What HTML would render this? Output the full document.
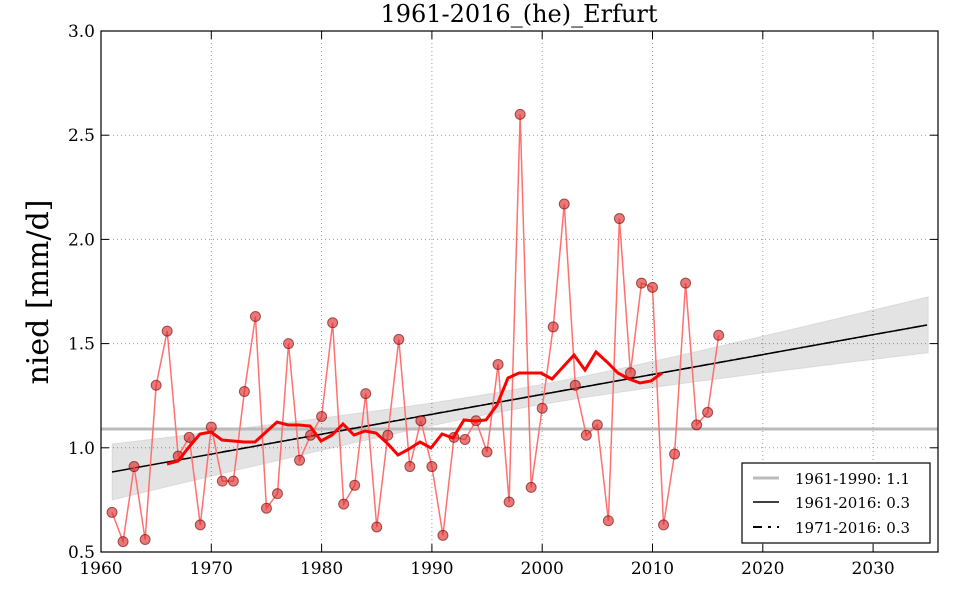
<!DOCTYPE html>
<html><head><meta charset="utf-8"><style>
html,body{margin:0;padding:0;background:#fff;width:960px;height:600px;overflow:hidden}
svg text{font-family:"DejaVu Serif","Liberation Serif",serif}
</style></head><body>
<svg id="s" width="960" height="600" xmlns="http://www.w3.org/2000/svg">
<rect width="960" height="600" fill="#fff"/>
<g id="grid" stroke="#999" stroke-width="1" stroke-dasharray="1,3"></g>
<polygon id="band" fill="#000" fill-opacity="0.11" stroke="#000" stroke-opacity="0.08"/>
<line x1="101" y1="429" x2="938" y2="429" stroke="#bbb" stroke-width="3"/>
<line x1="112" y1="472" x2="927" y2="325" stroke="#000" stroke-width="1.5"/>
<line x1="222" y1="452" x2="927" y2="325" stroke="#000" stroke-width="1.5" stroke-dasharray="8,4,2,4"/>
<polyline id="data" fill="none" stroke="#ff7070" stroke-width="1.5"/>
<g id="pts"></g>
<polyline fill="none" stroke="#f00" stroke-width="3" points="167,464 178,461 189,447 200,434 211,432 222,440 233,441 244,442 255,442 266,432 277,422 288,425 299,425 310,426 321,441 332,435 343,424 354,435 365,431 376,433 387,443 398,455 409,449 420,442 431,448 442,434 453,438 464,420 475,421 486,420 497,405 508,378 519,373 530,373 541,373 552,379 563,367 574,355 585,370 596,352 607,362 618,373 629,379 640,383 651,381 662,373"/>
<g id="ticks" stroke="#000" stroke-width="1"></g>
<rect x="101" y="31" width="837" height="521" fill="none" stroke="#000" stroke-width="1.2"/>
<g id="lab" font-size="17" fill="#000"></g>
<text x="519" y="22" font-size="24" text-anchor="middle">1961-2016_(he)_Erfurt</text>
<text transform="translate(48,292) rotate(-90)" font-size="30" text-anchor="middle">nied [mm/d]</text>
<rect x="742" y="463" width="188" height="80" fill="#fff" stroke="#000" stroke-width="1.2"/>
<line x1="753" y1="478" x2="779" y2="478" stroke="#bbb" stroke-width="3"/>
<line x1="753" y1="502" x2="779" y2="502" stroke="#000" stroke-width="1.5"/>
<line x1="753" y1="527" x2="779" y2="527" stroke="#000" stroke-width="2" stroke-dasharray="9,6,3,6"/>
<text x="795" y="484" font-size="15">1961-1990: 1.1</text>
<text x="795" y="508" font-size="15">1961-2016: 0.3</text>
<text x="795" y="533" font-size="15">1971-2016: 0.3</text>
</svg>
<script>
var NS="http://www.w3.org/2000/svg";
function X(y){return 101+(y-1960)*11.03}
function Y(v){return 31+(3-v)*208.4}
function el(t,a,p){var e=document.createElementNS(NS,t);for(var k in a)e.setAttribute(k,a[k]);p.appendChild(e);return e}
var g=document.getElementById('grid'),tk=document.getElementById('ticks'),lb=document.getElementById('lab');
for(var yr=1970;yr<=2030;yr+=10){var x=X(yr);el('line',{x1:x,y1:31,x2:x,y2:552},g)}
for(var v=1;v<=2.5;v+=0.5){var y=Y(v);el('line',{x1:101,y1:y,x2:938,y2:y},g)}
for(var yr=1960;yr<=2030;yr+=10){var x=X(yr);el('line',{x1:x,y1:552,x2:x,y2:544},tk);el('line',{x1:x,y1:31,x2:x,y2:39},tk);
 var t=el('text',{x:x,y:574,'text-anchor':'middle'},lb);t.textContent=yr}
for(var v=0.5;v<=3.01;v+=0.5){var y=Y(v);el('line',{x1:101,y1:y,x2:109,y2:y},tk);el('line',{x1:938,y1:y,x2:930,y2:y},tk);
 var t=el('text',{x:95,y:y+6,'text-anchor':'end'},lb);t.textContent=v.toFixed(1)}
var d=[0.69,0.55,0.91,0.56,1.30,1.56,0.96,1.05,0.63,1.10,0.84,0.84,1.27,1.63,0.71,0.78,1.50,0.94,1.06,1.15,1.60,0.73,0.82,1.26,0.62,1.06,1.52,0.91,1.13,0.91,0.58,1.05,1.04,1.13,0.98,1.40,0.74,2.60,0.81,1.19,1.58,2.17,1.30,1.06,1.11,0.65,2.10,1.36,1.79,1.77,0.63,0.97,1.79,1.11,1.17,1.54];
var pts=[],pg=document.getElementById('pts');
d.forEach(function(v,i){var x=X(1961+i),y=Y(v);pts.push(x+','+y);el('circle',{cx:x,cy:y,r:5,fill:'#e03030','fill-opacity':0.65,stroke:'#600','stroke-opacity':0.6},pg)});
document.getElementById('data').setAttribute('points',pts.join(' '));
var up=[],lo=[];
for(var yr=1961;yr<=2035;yr+=1){var x=X(yr);var c=472+(x-112)*(325-472)/(927-112);var h=Math.sqrt(100+(28*28-100)*Math.pow((yr-1998)/37,2));
 up.push(x+','+(c-h));lo.unshift(x+','+(c+h))}
document.getElementById('band').setAttribute('points',up.concat(lo).join(' '));
</script>
</body></html>
